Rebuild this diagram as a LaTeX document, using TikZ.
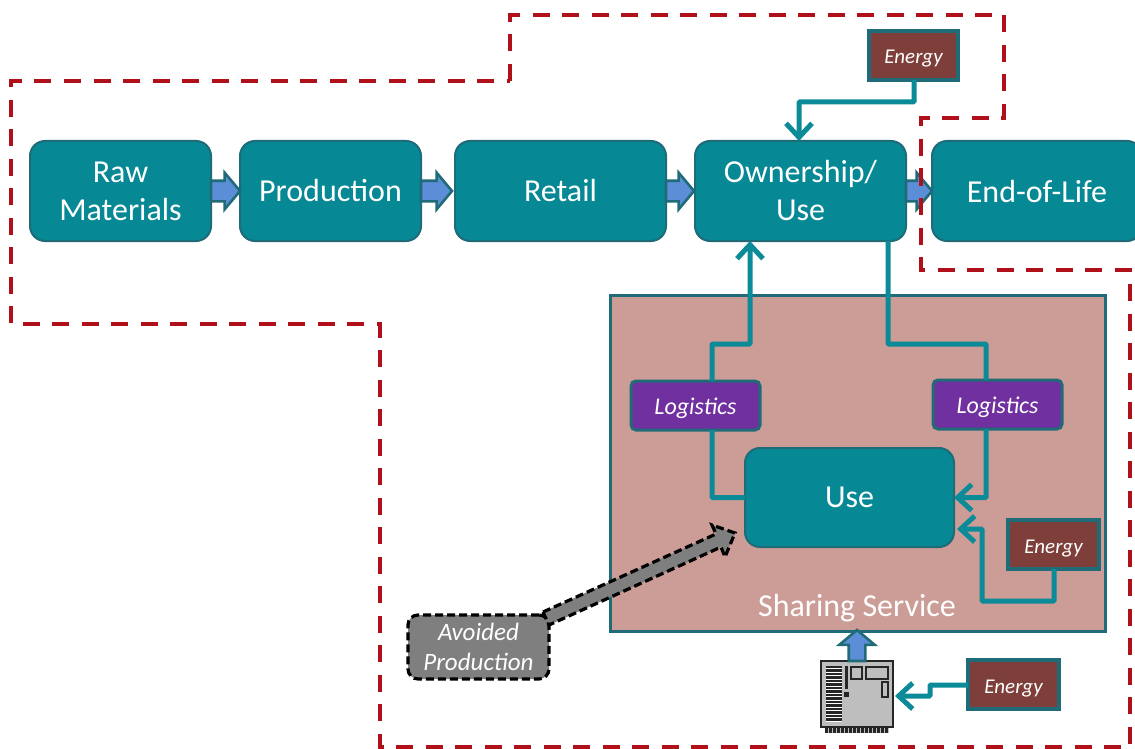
\documentclass[tikz,border=0pt]{standalone}
\usepackage{fontspec}
\setmainfont{Carlito}
\usetikzlibrary{arrows.meta,shapes.arrows,positioning,calc}
\definecolor{tealfill}{HTML}{068895}
\definecolor{tealedge}{HTML}{1F6B78}
\definecolor{conn}{HTML}{0B8A97}
\definecolor{redline}{HTML}{B0101A}
\definecolor{pinkfill}{HTML}{CC9C97}
\definecolor{energyfill}{HTML}{7E3F3A}
\definecolor{purplefill}{HTML}{7030A0}
\definecolor{bluefill}{HTML}{5B8ED6}
\definecolor{grayfill}{HTML}{7F7F7F}
\definecolor{icongray}{HTML}{BEBEBE}
\definecolor{icondark}{HTML}{262626}
\tikzset{
  x=1pt,y=-1pt,
  every node/.style={outer sep=0pt},
  pbox/.style={draw=tealedge,line width=2pt,fill=tealfill,rounded corners=15pt,text=white,font=\fontsize{32}{38}\selectfont,align=center,anchor=north west,inner sep=0pt},
  logbox/.style={draw=tealedge,line width=3pt,fill=purplefill,rounded corners=5pt,text=white,font=\fontsize{24}{26}\selectfont\itshape,align=center,anchor=north west,inner sep=0pt,minimum width=129pt,minimum height=49pt,text height=20pt,text depth=3pt},
  enbox/.style={draw=tealedge,line width=3.4pt,fill=energyfill,text=white,font=\fontsize{21}{25}\selectfont\itshape,align=center,anchor=north west,inner sep=0pt,minimum height=49pt,text height=19pt,text depth=2pt},
  avoidbox/.style={draw=black,line width=3.2pt,dash pattern=on 8pt off 4pt,fill=grayfill,rounded corners=10pt,text=white,font=\fontsize{25}{30}\selectfont\itshape,align=center,anchor=north west,inner sep=0pt,minimum width=141pt,minimum height=64pt},
  sharebox/.style={draw=tealedge,line width=3pt,fill=pinkfill,anchor=north west,inner sep=0pt,minimum width=495pt,minimum height=336pt},
  flow/.style={draw=conn,line width=5pt,-{Straight Barb[length=14pt,width=26pt,line width=5pt]}},
  plainflow/.style={draw=conn,line width=5pt},
  blockarrow/.style={single arrow,draw=tealedge,line width=2.6pt,fill=bluefill,inner xsep=0pt,inner ysep=9pt,single arrow head extend=8pt,single arrow tip angle=100,single arrow head indent=0pt,minimum height=29pt,anchor=tail},
  grayarrow/.style={draw=black,line width=3.2pt,dash pattern=on 8pt off 4pt,fill=grayfill},
  boundary/.style={draw=redline,line width=3.6pt,dash pattern=on 17pt off 12.5pt},
}
\begin{document}
\begin{tikzpicture}
\useasboundingbox (0,0) rectangle (1135,749);
% Sharing service
\node[sharebox] (share) at (610,295) {};
\node[text=white,font=\fontsize{32}{34}\selectfont] (sharelabel) at (857,608) {Sharing Service};
% Process boxes
\node[pbox,minimum width=181pt,minimum height=100pt] (raw) at (30,141) {Raw\\Materials};
\node[pbox,minimum width=181pt,minimum height=100pt] (prod) at (240,141) {Production};
\node[pbox,minimum width=211pt,minimum height=100pt] (retail) at (455,141) {Retail};
\node[pbox,minimum width=211pt,minimum height=100pt] (own) at (695,141) {Ownership/\\Use};
\node[pbox,minimum width=210pt,minimum height=100pt] (eol) at (932,141) {End-of-Life};
\node[pbox,minimum width=209pt,minimum height=99pt] (use) at (745,448) {Use};
% Small boxes
\node[logbox] (logl) at (631,381) {Logistics};
\node[logbox] (logr) at (933,380) {Logistics};
\node[enbox,minimum width=89pt] (entop) at (869,31) {Energy};
\node[enbox,minimum width=91pt] (enright) at (1008,520) {Energy};
\node[enbox,minimum width=91pt] (enbot) at (968,660) {Energy};
\node[avoidbox] (avoid) at (408,615) {Avoided\\Production};
% Block arrows
\node[blockarrow,minimum height=29pt] (a1) at (raw.east) {};
\node[blockarrow,minimum height=31pt] (a2) at (prod.east) {};
\node[blockarrow,minimum height=28pt] (a3) at (retail.east) {};
\node[blockarrow,minimum height=26pt] (a4) at (own.east) {};
% Server icon
\node[draw=icondark,line width=2pt,fill=icongray,anchor=north west,inner sep=0pt,minimum width=72pt,minimum height=66pt] (server) at (821,661) {};
\fill[icondark] (825,727) rectangle (889,733);
\foreach \xx in {828,832,...,888} {\draw[icongray,line width=.6pt] (\xx,728) -- (\xx,733);}
\fill[white] (826,666) rectangle (842,722);
\foreach \yy in {667,670.5,...,722} {\draw[icondark,line width=2.1pt] (826,\yy) -- (842,\yy);}
\fill[icondark] (845,666) rectangle (848,689);
\fill[icondark] (844,692) rectangle (849,697);
\draw[icondark,line width=1.8pt] (851,667) rectangle (862,679);
\draw[icondark,line width=1.8pt] (866,667) rectangle (888,679);
\draw[icondark,line width=1.4pt] (882,682) rectangle (888,697);
\node[blockarrow,rotate=90,minimum height=31pt,inner ysep=7pt,single arrow head extend=9.5pt] (a5) at (server.north) {};
% Avoided production arrow
\coordinate (g1) at (543,612);
\coordinate (g2) at (716,534);
\coordinate (g3) at (712,525);
\coordinate (g4) at (735,533);
\coordinate (g5) at (725,557);
\coordinate (g6) at (721,547);
\coordinate (g7) at (549,625);
\draw[grayarrow] (g1) -- (g2) -- (g3) -- (g4) -- (g5) -- (g6) -- (g7) -- cycle;
% Connectors
\coordinate (e1) at (914,102);
\coordinate (e2) at (799,102);
\draw[flow,rounded corners=1pt] (entop.south -| e1) -- (e1) -- (e2) -- (own.north -| e2);
\coordinate (l1) at (712,344);
\coordinate (l2) at (750,344);
\draw[flow,rounded corners=1pt] (logl.north -| l1) -- (l1) -- (l2) -- (own.south -| l2);
\draw[plainflow,rounded corners=1pt] (use.west) -- (use.west -| l1) -- (logl.south -| l1);
\coordinate (r1) at (888,344);
\coordinate (r2) at (986,344);
\draw[plainflow,rounded corners=1pt] (own.south -| r1) -- (r1) -- (r2) -- (logr.north -| r2);
\draw[flow,rounded corners=1pt] (logr.south -| r2) -- (r2 |- use.east) -- (use.east);
\coordinate (p1) at (1054,601);
\coordinate (p2) at (982,601);
\coordinate (p3) at (982,529);
\coordinate (p4) at (957,529);
\draw[flow,rounded corners=1pt] (enright.south -| p1) -- (p1) -- (p2) -- (p3) -- (p4);
\coordinate (b1) at (930,685);
\coordinate (b2) at (930,696);
\coordinate (b3) at (895,696);
\draw[flow,rounded corners=1pt] (enbot.west |- b1) -- (b1) -- (b2) -- (b3);
% Boundary
\draw[boundary] (510,81) -- (510,15) -- (1004,15) -- (1004,118) -- (921,118) -- (921,270) -- (1130,270) -- (1130,747) -- (380,747) -- (380,324) -- (11,324) -- (11,81) -- cycle;
\end{tikzpicture}
\end{document}
